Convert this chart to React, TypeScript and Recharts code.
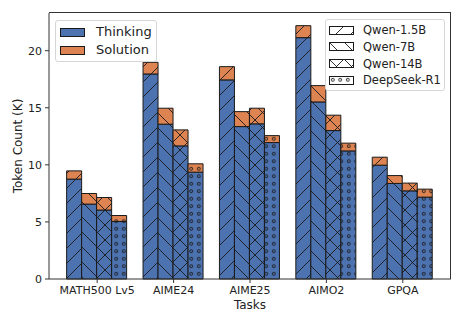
import { BarChart, Bar, XAxis, YAxis } from "recharts";

const tasks = ["MATH500 Lv5", "AIME24", "AIME25", "AIMO2", "GPQA"];
const models = ["Qwen-1.5B", "Qwen-7B", "Qwen-14B", "DeepSeek-R1"];
const hatches = ["slash", "back", "cross", "dots"];

// token counts in thousands
const thinking15B = [8.75, 17.96, 17.44, 21.14, 9.97];
const solution15B = [0.72, 1.02, 1.16, 1.05, 0.7];
const thinking7B = [6.56, 13.56, 13.35, 15.51, 8.37];
const solution7B = [0.93, 1.4, 1.31, 1.43, 0.69];
const thinking14B = [6.04, 11.66, 13.59, 13.0, 7.72];
const solution14B = [1.1, 1.4, 1.37, 1.35, 0.68];
const thinkingR1 = [5.04, 9.36, 11.95, 11.22, 7.17];
const solutionR1 = [0.52, 0.73, 0.61, 0.68, 0.7];

const yTicks = [0, 5, 10, 15, 20];

const thinkingByModel = [thinking15B, thinking7B, thinking14B, thinkingR1];
const solutionByModel = [solution15B, solution7B, solution14B, solutionR1];

const data = tasks.map((task, i) => {
  const row: Record<string, string | number> = { task };
  models.forEach((_, m) => {
    row[`t${m}`] = thinkingByModel[m][i];
    row[`s${m}`] = solutionByModel[m][i];
  });
  return row;
});

const BLUE = "#4C72B0";
const ORANGE = "#DD8452";
const INK = "#1a1a1a";
const FONT = "DejaVu Sans, sans-serif";

const bgs: Record<string, string> = { blue: BLUE, orange: ORANGE, white: "#ffffff" };

const HatchPattern = ({ hatch, bg }: { hatch: string; bg: string }) => {
  const id = `h-${hatch}-${bg}`;
  if (hatch === "dots") {
    return (
      <pattern id={id} patternUnits="userSpaceOnUse" width={7.5} height={7.5}>
        <rect width={7.5} height={7.5} fill={bgs[bg]} />
        <circle cx={3.75} cy={3.75} r={1.5} fill="none" stroke={INK} strokeWidth={0.9} />
      </pattern>
    );
  }
  const fwd = "M-3.75,3.75 L3.75,-3.75 M0,15 L15,0 M11.25,18.75 L18.75,11.25";
  const bwd = "M-3.75,11.25 L3.75,18.75 M0,0 L15,15 M11.25,-3.75 L18.75,3.75";
  const d = hatch === "slash" ? fwd : hatch === "back" ? bwd : `${fwd} ${bwd}`;
  return (
    <pattern id={id} patternUnits="userSpaceOnUse" width={15} height={15}>
      <rect width={15} height={15} fill={bgs[bg]} />
      <path d={d} stroke={INK} strokeWidth={0.9} fill="none" />
    </pattern>
  );
};

const Patterns = () => (
  <svg width={0} height={0} style={{ position: "absolute" }}>
    <defs>
      {hatches.map((h) =>
        Object.keys(bgs).map((bg) => <HatchPattern key={`${h}-${bg}`} hatch={h} bg={bg} />)
      )}
    </defs>
  </svg>
);

const legendBox: React.CSSProperties = {
  position: "absolute",
  background: "rgba(255,255,255,0.85)",
  border: "1px solid #d6d6d6",
  borderRadius: 3,
  boxSizing: "border-box",
  fontFamily: FONT,
  color: "#222",
};

export default function App() {
  return (
    <div style={{ position: "absolute", left: 0, top: 0, width: 464, height: 325, background: "#fff" }}>
      <Patterns />
      <BarChart
        width={464}
        height={325}
        data={data}
        margin={{ top: 13, right: 13, bottom: 0, left: 0 }}
        barCategoryGap="10%"
        barGap={0}
      >
        <XAxis
          dataKey="task"
          height={46}
          padding={{ left: 10, right: 10 }}
          tickSize={4}
          tickMargin={3}
          tick={{ fontSize: 11, fill: "#222", fontFamily: FONT }}
          tickLine={{ stroke: "#333" }}
          axisLine={{ stroke: "#333" }}
          label={{ value: "Tasks", position: "insideBottom", offset: 16, fontSize: 12, fill: "#222", fontFamily: FONT }}
        />
        <YAxis
          width={49}
          domain={[0, 23.3]}
          ticks={yTicks}
          tickSize={4}
          tickMargin={3}
          tick={{ fontSize: 11, fill: "#222", fontFamily: FONT }}
          tickLine={{ stroke: "#333" }}
          axisLine={{ stroke: "#333" }}
          label={{
            value: "Token Count (K)",
            angle: -90,
            position: "insideLeft",
            offset: 18,
            style: { textAnchor: "middle" },
            fontSize: 12,
            fill: "#222",
            fontFamily: FONT,
          }}
        />
        {models.map((m, i) => [
          <Bar
            key={`t${i}`}
            dataKey={`t${i}`}
            name={`${m} thinking`}
            stackId={`m${i}`}
            fill={`url(#h-${hatches[i]}-blue)`}
            stroke={INK}
            strokeWidth={1}
            isAnimationActive={false}
          />,
          <Bar
            key={`s${i}`}
            dataKey={`s${i}`}
            name={`${m} solution`}
            stackId={`m${i}`}
            fill={`url(#h-${hatches[i]}-orange)`}
            stroke={INK}
            strokeWidth={1}
            isAnimationActive={false}
          />,
        ])}
      </BarChart>

      {/* top and right spines of the axes frame */}
      <div
        style={{
          position: "absolute",
          left: 49,
          top: 12,
          width: 402,
          height: 267,
          borderTop: "1px solid #333",
          borderRight: "1px solid #333",
          boxSizing: "border-box",
          pointerEvents: "none",
        }}
      />

      <div style={{ ...legendBox, left: 55, top: 20, width: 102, height: 42, fontSize: 13 }}>
        {[
          { label: "Thinking", color: BLUE },
          { label: "Solution", color: ORANGE },
        ].map((e, i) => (
          <div key={e.label} style={{ position: "absolute", left: 4, top: 3 + i * 18, height: 16, display: "flex", alignItems: "center" }}>
            <div style={{ width: 25, height: 9, background: e.color, border: `1px solid ${INK}`, boxSizing: "border-box" }} />
            <span style={{ marginLeft: 11, lineHeight: "16px" }}>{e.label}</span>
          </div>
        ))}
      </div>

      <div style={{ ...legendBox, left: 325, top: 19, width: 120, height: 72, fontSize: 11.5 }}>
        {models.map((m, i) => (
          <div key={m} style={{ position: "absolute", left: 3, top: 2 + i * 16.8, height: 16, display: "flex", alignItems: "center" }}>
            <svg width={25} height={9}>
              <rect x={0.5} y={0.5} width={24} height={8} fill={`url(#h-${hatches[i]}-white)`} stroke={INK} strokeWidth={1} />
            </svg>
            <span style={{ marginLeft: 9, lineHeight: "16px" }}>{m}</span>
          </div>
        ))}
      </div>
    </div>
  );
}
